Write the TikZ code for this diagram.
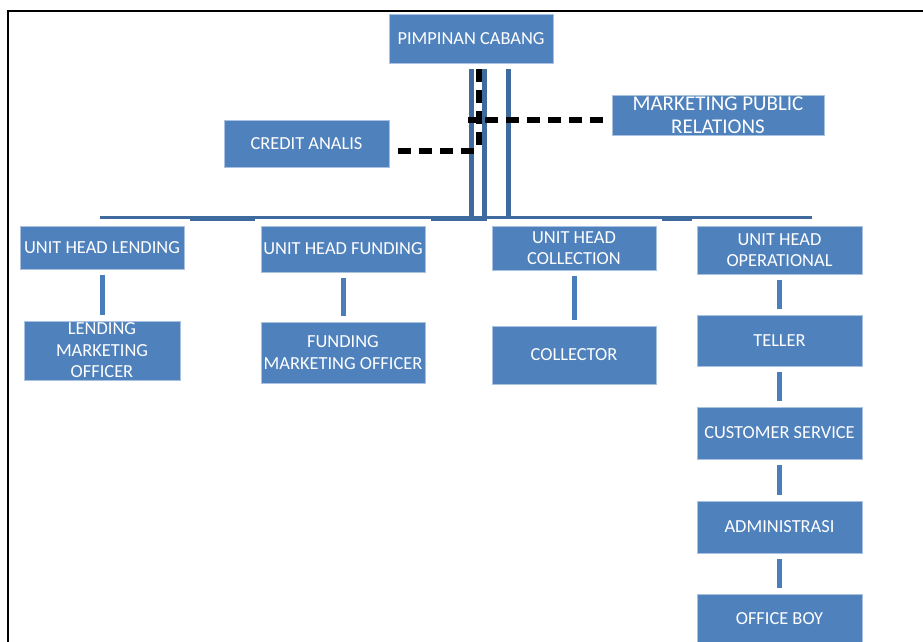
\documentclass[tikz,border=0pt]{standalone}
\usepackage{fontspec}
\setmainfont{Carlito}
\definecolor{boxfill}{HTML}{4F81BD}
\definecolor{boxline}{HTML}{A9C2E2}
\definecolor{conn}{HTML}{4A7EBB}
\definecolor{trunk}{HTML}{3F6A9E}
\begin{document}
\begin{tikzpicture}[x=1pt,y=-1pt,
  orgbox/.style={draw=boxline, line width=0.7pt, fill=boxfill, text=white, inner sep=0pt,
     align=center, font=\fontsize{18.4}{21.5}\selectfont},
  link/.style={draw=conn, line width=5pt, shorten <=6pt, shorten >=6pt},
  trunkline/.style={draw=trunk, line width=5pt},
  dashline/.style={draw=black, line width=5.5pt, dash pattern=on 13pt off 8pt}]
\useasboundingbox (0,0) rectangle (923,642);
\clip (0,0) rectangle (923,642);
\fill[white] (0,0) rectangle (923,642);
% frame
\draw[black, line width=1.6pt] (8,700) -- (8,11) -- (1000,11);

% nodes
\node[orgbox, minimum width=164pt, minimum height=49pt] (pc) at (471,38.5) {PIMPINAN CABANG};
\node[orgbox, minimum width=212pt, minimum height=40pt, font=\fontsize{21}{23}\selectfont] (mpr) at (718,115) {MARKETING PUBLIC\\RELATIONS};
\node[orgbox, minimum width=165pt, minimum height=47pt] (ca) at (306.5,143.5) {CREDIT ANALIS};
\node[orgbox, minimum width=164pt, minimum height=43pt] (uhl) at (102,247.5) {UNIT HEAD LENDING};
\node[orgbox, minimum width=156pt, minimum height=59pt] (lmo) at (102,350.5) {LENDING\\MARKETING\\OFFICER};
\node[orgbox, minimum width=164pt, minimum height=46pt] (uhf) at (343,249) {UNIT HEAD FUNDING};
\node[orgbox, minimum width=164pt, minimum height=61pt] (fmo) at (343,352.5) {FUNDING\\MARKETING OFFICER};
\node[orgbox, minimum width=164pt, minimum height=44pt] (uhc) at (574,248) {UNIT HEAD\\COLLECTION};
\node[orgbox, minimum width=164pt, minimum height=58pt] (col) at (574,355) {COLLECTOR};
\node[orgbox, minimum width=165pt, minimum height=48pt] (uho) at (779.5,250) {UNIT HEAD\\OPERATIONAL};
\node[orgbox, minimum width=165pt, minimum height=51pt] (tel) at (779.5,340.5) {TELLER};
\node[orgbox, minimum width=165pt, minimum height=52pt] (cs) at (779.5,433) {CUSTOMER SERVICE};
\node[orgbox, minimum width=165pt, minimum height=52pt] (adm) at (779.5,527) {ADMINISTRASI};
\node[orgbox, minimum width=165pt, minimum height=50pt] (ob) at (779.5,619) {OFFICE BOY};

% trunk
\coordinate (bl) at (100,217.5);
\coordinate (br) at (812,217.5);
\draw[draw=trunk, line width=3.5pt] (bl) -- (br);
\draw[draw=trunk, line width=2.5pt] (190,219.5) -- (255,219.5);
\draw[draw=trunk, line width=2.5pt] (431,219.5) -- (487,219.5);
\draw[draw=trunk, line width=2.5pt] (662,219.5) -- (692,219.5);
\draw[trunkline, shorten <=6pt] (pc.south) -- (pc.south |- bl);
\draw[trunkline, shorten <=6pt] ([xshift=13pt]pc.south) -- ([xshift=13pt]pc.south |- bl);
\draw[trunkline, shorten <=6pt] ([xshift=37pt]pc.south) -- ([xshift=37pt]pc.south |- bl);

% dashed staff lines
\coordinate (dv) at (479,145);
\draw[dashline, shorten <=6pt] ([xshift=8pt]pc.south) -- (dv);
\draw[dashline, shorten <=9pt] (mpr.west |- 0,120) -- (468,120);
\draw[dashline, shorten <=9pt] (ca.east |- 0,151) -- (479,151);

% unit links
\draw[link] ([xshift=0.5pt]uhl.south) -- ([xshift=0.5pt]lmo.north);
\draw[link] (uhf.south) -- (fmo.north);
\draw[link] (uhc.south) -- (col.north);
\draw[link] (uho.south) -- (tel.north);
\draw[link] (tel.south) -- (cs.north);
\draw[link] (cs.south) -- (adm.north);
\draw[link] (adm.south) -- (ob.north);
\end{tikzpicture}
\end{document}
